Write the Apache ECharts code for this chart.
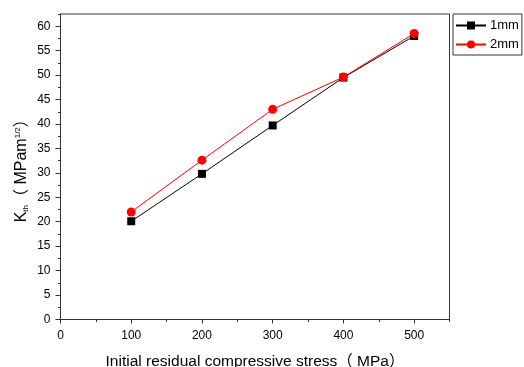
<!DOCTYPE html>
<html>
<head>
<meta charset="utf-8">
<script src="https://cdn.jsdelivr.net/npm/echarts@6/dist/echarts.min.js"></script>
<style>
  html, body { margin: 0; padding: 0; background: #fff; }
  #chart { width: 524px; height: 367px; }
</style>
</head>
<body>
<div id="chart"></div>
<script>
const stress = [100, 200, 300, 400, 500]
const k1mm = [20.1, 29.8, 39.7, 49.5, 58.0]
const k2mm = [22.0, 32.6, 43.0, 49.6, 58.5]
const xMajor = [0, 100, 200, 300, 400, 500]
const xMinor = [50, 150, 250, 350, 450, 550]
const yMajor = [0, 5, 10, 15, 20, 25, 30, 35, 40, 45, 50, 55, 60]
const yMinor = [2.5, 7.5, 12.5, 17.5, 22.5, 27.5, 32.5, 37.5, 42.5, 47.5, 52.5, 57.5, 62.5]

const font = 'Liberation Sans, Arial, Noto Sans CJK SC, sans-serif'
const axisColor = '#333'

const chart = echarts.init(document.getElementById('chart'))

const pairs = (ys) => stress.map((x, i) => [x, ys[i]])

chart.setOption({
    animation: false,
    textStyle: { fontFamily: font },
    grid: {
        left: 60.5, right: 74.5, top: 14, bottom: 47.5,
        outerBoundsMode: 'none',
        containLabel: false,
        show: true, borderColor: axisColor, borderWidth: 1
    },
    legend: {
        orient: 'vertical',
        left: 453, top: 14,
        padding: [5, 3, 4, 2],
        itemGap: 6,
        itemWidth: 30,
        itemHeight: 10,
        borderColor: axisColor,
        borderWidth: 1,
        textStyle: { fontSize: 13, color: '#000', fontFamily: font, padding: [0, 0, 0, -1] },
        data: ['1mm', '2mm']
    },
    xAxis: [
        {
            type: 'value', min: 0, max: 550, position: 'bottom',
            name: 'Initial residual compressive stress（ MPa）',
            nameLocation: 'middle', nameGap: 34, nameMoveOverlap: false,
            nameTextStyle: { fontSize: 15.5, color: '#000', fontFamily: font },
            splitLine: { show: false },
            axisLine: { show: true, lineStyle: { color: axisColor, width: 1 } },
            axisTick: { show: true, inside: false, length: 4, customValues: xMajor, lineStyle: { color: axisColor } },
            axisLabel: { customValues: xMajor, fontSize: 12, color: '#000', margin: 10, fontFamily: font }
        },
        {
            type: 'value', min: 0, max: 550, position: 'bottom',
            splitLine: { show: false },
            axisLine: { show: false },
            axisTick: { show: true, length: 2.5, customValues: xMinor, lineStyle: { color: axisColor } },
            axisLabel: { show: false }
        }
    ],
    yAxis: [
        {
            type: 'value', min: 0, max: 62.5, position: 'left',
            name: '{a|K}{sub|th}{a|（ MPam}{sup|1/2}{a|）}',
            nameLocation: 'middle', nameGap: 31, nameRotate: 90, nameMoveOverlap: false,
            nameTextStyle: {
                fontFamily: font,
                rich: {
                    a: { fontSize: 16, color: '#000', fontFamily: font },
                    sub: { fontSize: 8, color: '#000', verticalAlign: 'bottom', fontFamily: font, padding: [7, 0, 0, 0] },
                    sup: { fontSize: 8, color: '#000', verticalAlign: 'top', fontFamily: font, padding: [0, 0, 7, 0] }
                }
            },
            splitLine: { show: false },
            axisLine: { show: true, lineStyle: { color: axisColor, width: 1 } },
            axisTick: { show: true, length: 5, customValues: yMajor, lineStyle: { color: axisColor } },
            axisLabel: { customValues: yMajor, fontSize: 12, color: '#000', margin: 10, fontFamily: font }
        },
        {
            type: 'value', min: 0, max: 62.5, position: 'left',
            splitLine: { show: false },
            axisLine: { show: false },
            axisTick: { show: true, length: 2.5, customValues: yMinor, lineStyle: { color: axisColor } },
            axisLabel: { show: false }
        }
    ],
    series: [
        {
            name: '1mm', type: 'line', data: pairs(k1mm),
            symbol: 'rect', symbolSize: 8,
            lineStyle: { color: '#000', width: 1 },
            itemStyle: { color: '#000' }
        },
        {
            name: '2mm', type: 'line', data: pairs(k2mm),
            symbol: 'circle', symbolSize: 9,
            lineStyle: { color: '#ff0000', width: 1 },
            itemStyle: { color: '#ff0000' }
        }
    ]
})
</script>
</body>
</html>
